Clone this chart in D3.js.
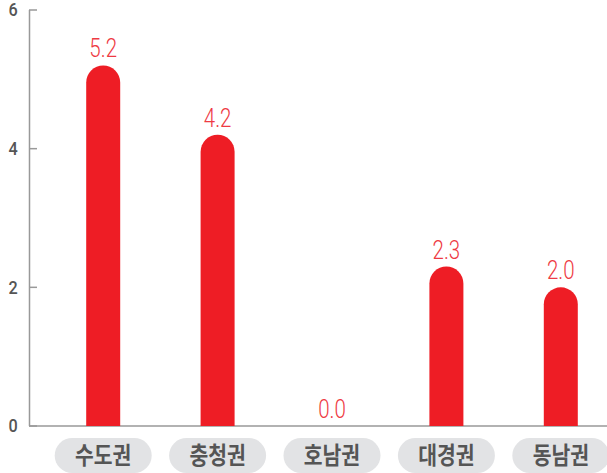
<!DOCTYPE html>
<html><head><meta charset="utf-8">
<script src="https://cdn.jsdelivr.net/npm/d3@7"></script>
<style>body{margin:0;background:#fff}svg{display:block}</style>
</head><body>
<svg id="c" width="607" height="473"></svg>
<script>
const categories = ["수도권","충청권","호남권","대경권","동남권"];
const values = [5.2, 4.2, 0.0, 2.3, 2.0];
const valueLabels = ["5.2","4.2","0.0","2.3","2.0"];
const yTicks = [0, 2, 4, 6];

const svg = d3.select("#c");
const y = d3.scaleLinear().domain([0, 6]).range([426, 10]);
const x = d3.scaleBand().domain(categories).range([46, 618]).padding(0);
const bw = 34, r = bw / 2;
const red = "#ee1d25";

// axis
svg.append("line").attr("x1", 29.5).attr("x2", 29.5).attr("y1", y(6)).attr("y2", y(0))
  .attr("stroke", "#999").attr("stroke-width", 1.5);
svg.append("line").attr("x1", 29).attr("x2", 607).attr("y1", y(0)).attr("y2", y(0))
  .attr("stroke", "#999").attr("stroke-width", 1.5);
yTicks.forEach(t => {
  svg.append("line").attr("x1", 29).attr("x2", 37).attr("y1", y(t)).attr("y2", y(t))
    .attr("stroke", "#999").attr("stroke-width", 1.5);
  svg.append("text").attr("transform", `translate(13,${y(t)}) scale(0.9,1)`).attr("dy", "0.36em")
    .attr("text-anchor", "middle").attr("font-family", "Roboto").attr("font-weight", 500)
    .attr("font-size", 18).attr("fill", "#555").text(t);
});

// bars
categories.forEach((c, i) => {
  const v = values[i];
  const cx = x(c) + x.bandwidth() / 2;
  const x0 = cx - r, x1 = cx + r;
  const top = y(v), base = y(0);
  if (base - top > 0.5) {
    const p = d3.path();
    p.moveTo(x0, base);
    p.lineTo(x0, top + r);
    p.arc(cx, top + r, r, Math.PI, 0);
    p.lineTo(x1, base);
    p.closePath();
    svg.append("path").attr("d", p.toString()).attr("fill", red);
  }
  svg.append("text")
    .attr("transform", `translate(${cx},${top - 8}) scale(0.82,1)`)
    .attr("text-anchor", "middle").attr("font-family", "Roboto").attr("font-weight", 300)
    .attr("font-size", 25).attr("fill", "#ee3a43").text(valueLabels[i]);

  // pill
  svg.append("rect").attr("x", cx - 48.5).attr("y", 438).attr("width", 97).attr("height", 35)
    .attr("rx", 17.5).attr("fill", "#e2e3e5");
  svg.append("text").attr("transform", `translate(${cx},455.5) scale(0.85,1)`).attr("dy", "0.36em")
    .attr("text-anchor", "middle").attr("font-family", "Noto Sans CJK KR").attr("font-weight", 700)
    .attr("font-size", 24).attr("fill", "#555").text(c);
});
</script>
</body></html>
